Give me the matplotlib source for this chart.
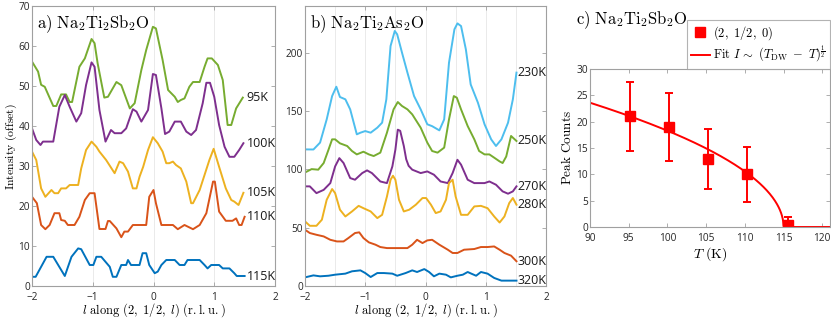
import numpy as np
import matplotlib
matplotlib.use("Agg")
import matplotlib.pyplot as plt
from matplotlib.ticker import MultipleLocator
from matplotlib.lines import Line2D

plt.rcParams['mathtext.fontset'] = 'cm'
plt.rcParams['font.family'] = ['Open Sans', 'DejaVu Sans']

# ---------------- Panel a data: Na2Ti2Sb2O ----------------
a_labels = ['95K', '100K', '105K', '110K', '115K']
a95_x = [-2, -1.90, -1.85, -1.79, -1.65, -1.60, -1.52, -1.44, -1.38, -1.34, -1.22, -1.13, -1.02, -0.97, -0.92, -0.81, -0.75, -0.61, -0.53, -0.39, -0.31, -0.20, -0.12, -0.01, 0.04, 0.15, 0.24, 0.35, 0.40, 0.45, 0.51, 0.59, 0.65, 0.76, 0.84, 0.89, 0.96, 1.06, 1.14, 1.22, 1.28, 1.36, 1.47]
a95_y = [56.1, 53.6, 50.3, 49.8, 45, 45, 47.9, 47.9, 46, 46, 54.8, 56.9, 61.75, 60.7, 55.7, 47.1, 47.3, 51, 50.2, 44.4, 45.7, 54, 59, 64.8, 64.4, 56.5, 49, 47.3, 46, 46.5, 46.9, 49.8, 51, 51, 54.8, 56.9, 56.9, 55.25, 51.5, 40.25, 40.25, 44.4, 47.1]
a100_x = [-2, -1.93, -1.86, -1.82, -1.65, -1.55, -1.46, -1.38, -1.27, -1.19, -1.11, -1.02, -0.97, -0.89, -0.79, -0.70, -0.64, -0.53, -0.45, -0.34, -0.28, -0.20, -0.09, -0.01, 0.04, 0.13, 0.19, 0.26, 0.35, 0.45, 0.54, 0.62, 0.70, 0.81, 0.87, 0.93, 1.00, 1.08, 1.17, 1.25, 1.33, 1.41, 1.48]
a100_y = [39.4, 36.5, 35.25, 36.1, 36.1, 44.8, 47.75, 44.8, 41.1, 43.2, 50.25, 55.9, 54.8, 44, 36.1, 39, 38.2, 38.2, 39.4, 44.2, 43.6, 41.1, 44, 53, 52.75, 44.4, 38, 38.6, 41.1, 41.1, 38.6, 37.75, 39, 45.7, 50.8, 50.8, 47.3, 40.25, 34.8, 32.3, 32.3, 34, 35.7]
a105_x = [-2, -1.93, -1.85, -1.78, -1.68, -1.63, -1.57, -1.52, -1.44, -1.38, -1.24, -1.19, -1.11, -1.02, -0.94, -0.89, -0.78, -0.64, -0.56, -0.50, -0.42, -0.34, -0.28, -0.23, -0.17, -0.09, -0.01, 0.07, 0.15, 0.21, 0.26, 0.32, 0.37, 0.45, 0.54, 0.62, 0.65, 0.76, 0.84, 0.92, 0.99, 1.08, 1.19, 1.28, 1.33, 1.40, 1.48]
a105_y = [33.6, 31.5, 24.4, 22.3, 24.0, 23.2, 23.2, 24.4, 24.4, 25.25, 25.25, 29.4, 34, 36.1, 34.8, 33.6, 31.5, 28.2, 31.1, 30.7, 28.6, 24.4, 24.4, 27.3, 29.8, 34, 37.2, 35.7, 33.6, 30.7, 30.7, 31.1, 30.25, 29.4, 26.1, 20.7, 20.7, 24, 27.75, 31.5, 34.3, 29.8, 24.4, 21.5, 21.1, 20.25, 23.3]
a110_x = [-2, -1.92, -1.85, -1.78, -1.71, -1.63, -1.55, -1.52, -1.46, -1.41, -1.30, -1.22, -1.13, -1.05, -0.97, -0.89, -0.79, -0.75, -0.72, -0.61, -0.53, -0.48, -0.42, -0.34, -0.12, -0.07, 0, 0.04, 0.13, 0.32, 0.40, 0.51, 0.65, 0.76, 0.87, 0.98, 1.01, 1.08, 1.19, 1.30, 1.36, 1.41, 1.45, 1.50]
a110_y = [22.3, 20.7, 15.25, 14.2, 15.25, 18.2, 18.2, 16.5, 16.3, 15.25, 15.25, 17.3, 21.5, 23.2, 23.2, 14.25, 14.25, 16.25, 16.25, 14.4, 12.2, 13.6, 13.6, 15.25, 15.25, 22.3, 24, 20.7, 15.25, 15.25, 14.2, 15.25, 14.2, 15.25, 18.2, 26.1, 26.1, 18.6, 16.3, 16.3, 16.9, 15.25, 15.25, 17.3]
a115_x = [-2, -1.94, -1.76, -1.65, -1.46, -1.35, -1.24, -1.19, -1.05, -0.99, -0.94, -0.86, -0.72, -0.67, -0.61, -0.53, -0.45, -0.42, -0.37, -0.23, -0.18, -0.12, -0.07, 0.02, 0.07, 0.13, 0.21, 0.35, 0.43, 0.51, 0.56, 0.76, 0.84, 0.89, 0.95, 1.08, 1.14, 1.25, 1.33, 1.37, 1.50]
a115_y = [2.3, 2.3, 7.3, 7.3, 2.5, 7.3, 9.4, 9.2, 5.25, 5.25, 7.3, 7.3, 4.8, 2.3, 2.3, 5.25, 5.25, 6.5, 5.25, 5.25, 8.2, 8.2, 5.25, 3.2, 3.6, 5.25, 6.5, 6.5, 5.25, 5.25, 6.5, 6.5, 5.25, 4.4, 5.25, 5.25, 4.4, 4.4, 3.2, 2.5, 2.5]

# ---------------- Panel b data: Na2Ti2As2O ----------------
b_labels = ['230K', '250K', '270K', '280K', '300K', '320K']
b230_x = [-2, -1.86, -1.75, -1.64, -1.55, -1.48, -1.42, -1.33, -1.25, -1.14, -1.08, -1.0, -0.91, -0.80, -0.72, -0.65, -0.58, -0.51, -0.47, -0.39, -0.30, -0.19, -0.08, 0.03, 0.11, 0.23, 0.31, 0.39, 0.48, 0.53, 0.59, 0.67, 0.75, 0.87, 0.98, 1.09, 1.17, 1.26, 1.37, 1.45, 1.51]
b230_y = [117.1, 117, 122.9, 142.8, 162.8, 170.8, 162, 160, 151.4, 130, 131.4, 132.8, 131.4, 135.7, 140, 160, 205.7, 218.6, 215.7, 200, 182.9, 162.8, 151.4, 138.6, 137, 133.4, 142.8, 191.4, 220, 225.1, 222.8, 202.8, 172.8, 157.1, 138.6, 125.7, 120, 125.7, 140, 160, 182.9]
b250_x = [-2, -1.89, -1.78, -1.69, -1.61, -1.55, -1.50, -1.42, -1.30, -1.22, -1.14, -1.03, -0.94, -0.86, -0.75, -0.64, -0.53, -0.46, -0.39, -0.30, -0.22, -0.08, 0.03, 0.11, 0.20, 0.31, 0.39, 0.47, 0.52, 0.59, 0.70, 0.81, 0.89, 0.98, 1.06, 1.14, 1.23, 1.28, 1.34, 1.42, 1.51]
b250_y = [97.3, 100.2, 99.7, 105.4, 116.8, 125.7, 125.7, 122.3, 120, 115.7, 112.8, 115.1, 112.8, 111.4, 114.3, 131.4, 151.4, 157.7, 154.3, 151.4, 147.1, 135.7, 122.9, 115.7, 114.3, 118.6, 142.8, 162.8, 161.4, 151.4, 137.1, 125.7, 115.7, 112.8, 112.8, 110, 106.8, 105.4, 111, 128.6, 124.3]
b270_x = [-2, -1.92, -1.81, -1.69, -1.58, -1.50, -1.43, -1.36, -1.25, -1.17, -1.05, -0.97, -0.89, -0.75, -0.64, -0.55, -0.50, -0.46, -0.42, -0.36, -0.32, -0.28, -0.22, -0.08, 0.03, 0.14, 0.25, 0.37, 0.45, 0.53, 0.59, 0.70, 0.81, 0.98, 1.06, 1.17, 1.28, 1.37, 1.45, 1.51]
b270_y = [85.4, 85.4, 79.6, 82.4, 88.2, 102.5, 109.6, 105.4, 92.5, 91.1, 96.8, 99.1, 96.8, 89.6, 88.2, 102.5, 116.8, 134, 133, 120, 108.6, 103, 99.7, 96.8, 98.2, 95.4, 89.6, 88.2, 96.8, 108.2, 104, 91.1, 88.2, 88.2, 89.6, 86.8, 81.1, 79.1, 81.1, 85.4]
b280_x = [-2, -1.92, -1.81, -1.72, -1.64, -1.55, -1.50, -1.42, -1.33, -1.22, -1.11, -1.03, -0.91, -0.80, -0.72, -0.64, -0.58, -0.54, -0.50, -0.44, -0.36, -0.27, -0.16, -0.05, 0.01, 0.09, 0.17, 0.25, 0.34, 0.39, 0.45, 0.50, 0.59, 0.70, 0.81, 0.92, 1.03, 1.14, 1.23, 1.31, 1.39, 1.45, 1.51]
b280_y = [55.4, 51.6, 51.6, 56.8, 73.9, 83.1, 79.6, 65.4, 59.6, 63.9, 68.7, 66.7, 63.9, 58.2, 61, 76.7, 91.1, 94.5, 91.1, 73.9, 63.9, 65.4, 69.7, 75.4, 75.4, 69.7, 62.5, 63.9, 73.9, 88.2, 91.1, 76.7, 61, 61, 68.2, 68.7, 66.7, 59.6, 54.4, 59.6, 71.1, 75.4, 69.7]
b300_x = [-2, -1.92, -1.81, -1.69, -1.58, -1.47, -1.36, -1.28, -1.17, -1.10, -1.03, -0.94, -0.83, -0.75, -0.64, -0.30, -0.22, -0.14, -0.05, 0.03, 0.11, 0.23, 0.37, 0.45, 0.53, 0.64, 0.81, 0.92, 1.03, 1.14, 1.23, 1.31, 1.42, 1.51]
b300_y = [48.2, 45.4, 43.9, 42.5, 39.6, 38.2, 38.2, 41.1, 45.4, 46, 41.1, 37.4, 35.4, 33.4, 32.5, 32.5, 35.4, 39.6, 36.8, 39.1, 39.6, 35.4, 31.1, 28.3, 28.3, 31.1, 31.7, 33.4, 33.4, 33.9, 31.1, 28.3, 26, 21.2]
b320_x = [-2, -1.86, -1.75, -1.61, -1.50, -1.33, -1.22, -1.08, -1.0, -0.91, -0.80, -0.69, -0.55, -0.47, -0.33, -0.22, -0.14, -0.02, 0.06, 0.14, 0.23, 0.34, 0.42, 0.53, 0.62, 0.70, 0.76, 0.84, 0.92, 1.03, 1.14, 1.26, 1.51]
b320_y = [7.4, 9.1, 8.3, 8.8, 9.7, 10.6, 12.6, 13.4, 11.1, 7.7, 11.1, 11.1, 10.6, 8.8, 11.1, 13.4, 12, 14.5, 12, 8.3, 10.6, 9.7, 7.4, 8.8, 9.7, 12, 10.6, 8.8, 12, 10.6, 6.9, 4.6, 4.6]

# ---------------- Panel c data ----------------
c_T = [95.2, 100.2, 105.3, 110.3, 115.6]
c_counts = [21.0, 19.0, 13.0, 10.0, 0.3]
c_err = [6.6, 6.4, 5.7, 5.2, 1.6]
fit_Tdw = 115.0
fit_amp = 4.72

colors = {'blue': '#0072BD', 'orange': '#D95319', 'yellow': '#EDB120',
          'purple': '#7E2F8E', 'green': '#77AC30', 'cyan': '#4DBEEE'}

fig = plt.figure(figsize=(8.31, 3.18), dpi=100)
W, H = 831, 318


def add_ax(l, r, t, b):
    return fig.add_axes([l / W, 1 - b / H, (r - l) / W, (b - t) / H])


spine_c = '#a0a0a0'
tick_fs = 7.3


def style(ax):
    for s in ax.spines.values():
        s.set_color(spine_c)
        s.set_linewidth(0.8)
    ax.tick_params(direction='in', top=True, right=True, length=3, width=0.6,
                   color=spine_c, labelsize=tick_fs, labelcolor='#262626')
    ax.tick_params(axis='x', pad=4)
    ax.tick_params(axis='y', pad=1.5)


lw = 1.4
xlab = r'$l\ \mathrm{along\ (2,\ 1/2,\ }l\mathrm{)\ (r.l.u.)}$'

# Panel a
axa = add_ax(32, 275, 6, 286)
series_a = [(a95_x, a95_y, 'green'), (a100_x, a100_y, 'purple'), (a105_x, a105_y, 'yellow'),
            (a110_x, a110_y, 'orange'), (a115_x, a115_y, 'blue')]
for (x, y, c), lab in zip(series_a, a_labels):
    axa.plot(x, y, color=colors[c], lw=lw)
    axa.text(1.53, y[-1], lab, ha='left', va='center', fontsize=9, color='#1a1a1a')
axa.set_xlim(-2, 2)
axa.set_ylim(0, 70)
axa.set_xticks([-2, -1, 0, 1, 2])
axa.set_yticks(range(0, 71, 10))
axa.grid(axis='x', color='#e6e6e6', lw=0.6)
axa.set_axisbelow(True)
style(axa)
axa.set_ylabel(r'$\mathrm{Intensity\ (offset)}$', fontsize=8.5)
axa.yaxis.set_label_coords(-0.052, 0.5)
axa.set_xlabel(xlab, fontsize=9)
axa.xaxis.set_label_coords(0.5, -0.055)
axa.text(0.02, 0.975, r'$\mathrm{a)\ Na_2Ti_2Sb_2O}$', transform=axa.transAxes,
         fontsize=12, ha='left', va='top')

# Panel b
axb = add_ax(305, 546, 6, 286)
series_b = [(b230_x, b230_y, 'cyan'), (b250_x, b250_y, 'green'), (b270_x, b270_y, 'purple'),
            (b280_x, b280_y, 'yellow'), (b300_x, b300_y, 'orange'), (b320_x, b320_y, 'blue')]
for (x, y, c), lab in zip(series_b, b_labels):
    axb.plot(x, y, color=colors[c], lw=lw)
    axb.text(1.53, y[-1], lab, ha='left', va='center', fontsize=9, color='#1a1a1a')
axb.set_xlim(-2, 2)
axb.set_ylim(0, 240)
axb.set_xticks([-2, -1, 0, 1, 2])
axb.set_yticks([0, 50, 100, 150, 200])
axb.xaxis.set_minor_locator(MultipleLocator(0.5))
axb.grid(axis='x', which='both', color='#e6e6e6', lw=0.6)
axb.set_axisbelow(True)
style(axb)
axb.tick_params(which='minor', length=0)
axb.set_xlabel(xlab, fontsize=9)
axb.xaxis.set_label_coords(0.5, -0.055)
axb.text(0.02, 0.975, r'$\mathrm{b)\ Na_2Ti_2As_2O}$', transform=axb.transAxes,
         fontsize=12, ha='left', va='top')

# Panel c
axc = add_ax(590, 830, 69, 227)
Tfit = np.linspace(90, 121, 600)
Ifit = fit_amp * np.sqrt(np.clip(fit_Tdw - Tfit, 0, None))
axc.plot(Tfit, Ifit, color='red', lw=1.4)
axc.errorbar(c_T, c_counts, yerr=c_err, fmt='s', color='red', ms=7, lw=1.4,
             capsize=3, capthick=1.4)
axc.set_xlim(90, 121)
axc.set_ylim(0, 30)
axc.set_xticks(range(90, 121, 5))
axc.set_yticks(range(0, 31, 5))
style(axc)
axc.set_ylabel(r'$\mathrm{Peak\ Counts}$', fontsize=9.5, labelpad=2)
axc.set_xlabel(r'$T\ \mathrm{(K)}$', fontsize=10, labelpad=1)
handles = [Line2D([], [], ls='none', marker='s', color='red', ms=7),
           Line2D([], [], color='red', lw=1.4)]
labels = [r'$\mathrm{(2,\ 1/2,\ 0)}$',
          r'$\mathrm{Fit}\ I\,\mathrm{\sim}\ (T_{\mathrm{DW}}\ -\ T)^{\frac{1}{2}}$']
leg = axc.legend(handles, labels, loc='upper right', bbox_to_anchor=(1.0, 1.31),
                 fontsize=9, frameon=True, fancybox=False, edgecolor=spine_c,
                 handlelength=1.5, handletextpad=0.3, borderpad=0.3, labelspacing=0.2,
                 borderaxespad=0)
leg.get_frame().set_linewidth(0.8)
fig.text(576 / W, 1 - 20 / H, r'$\mathrm{c)\ Na_2Ti_2Sb_2O}$', fontsize=12, ha='left', va='center')

fig.savefig('out.png', dpi=100)
